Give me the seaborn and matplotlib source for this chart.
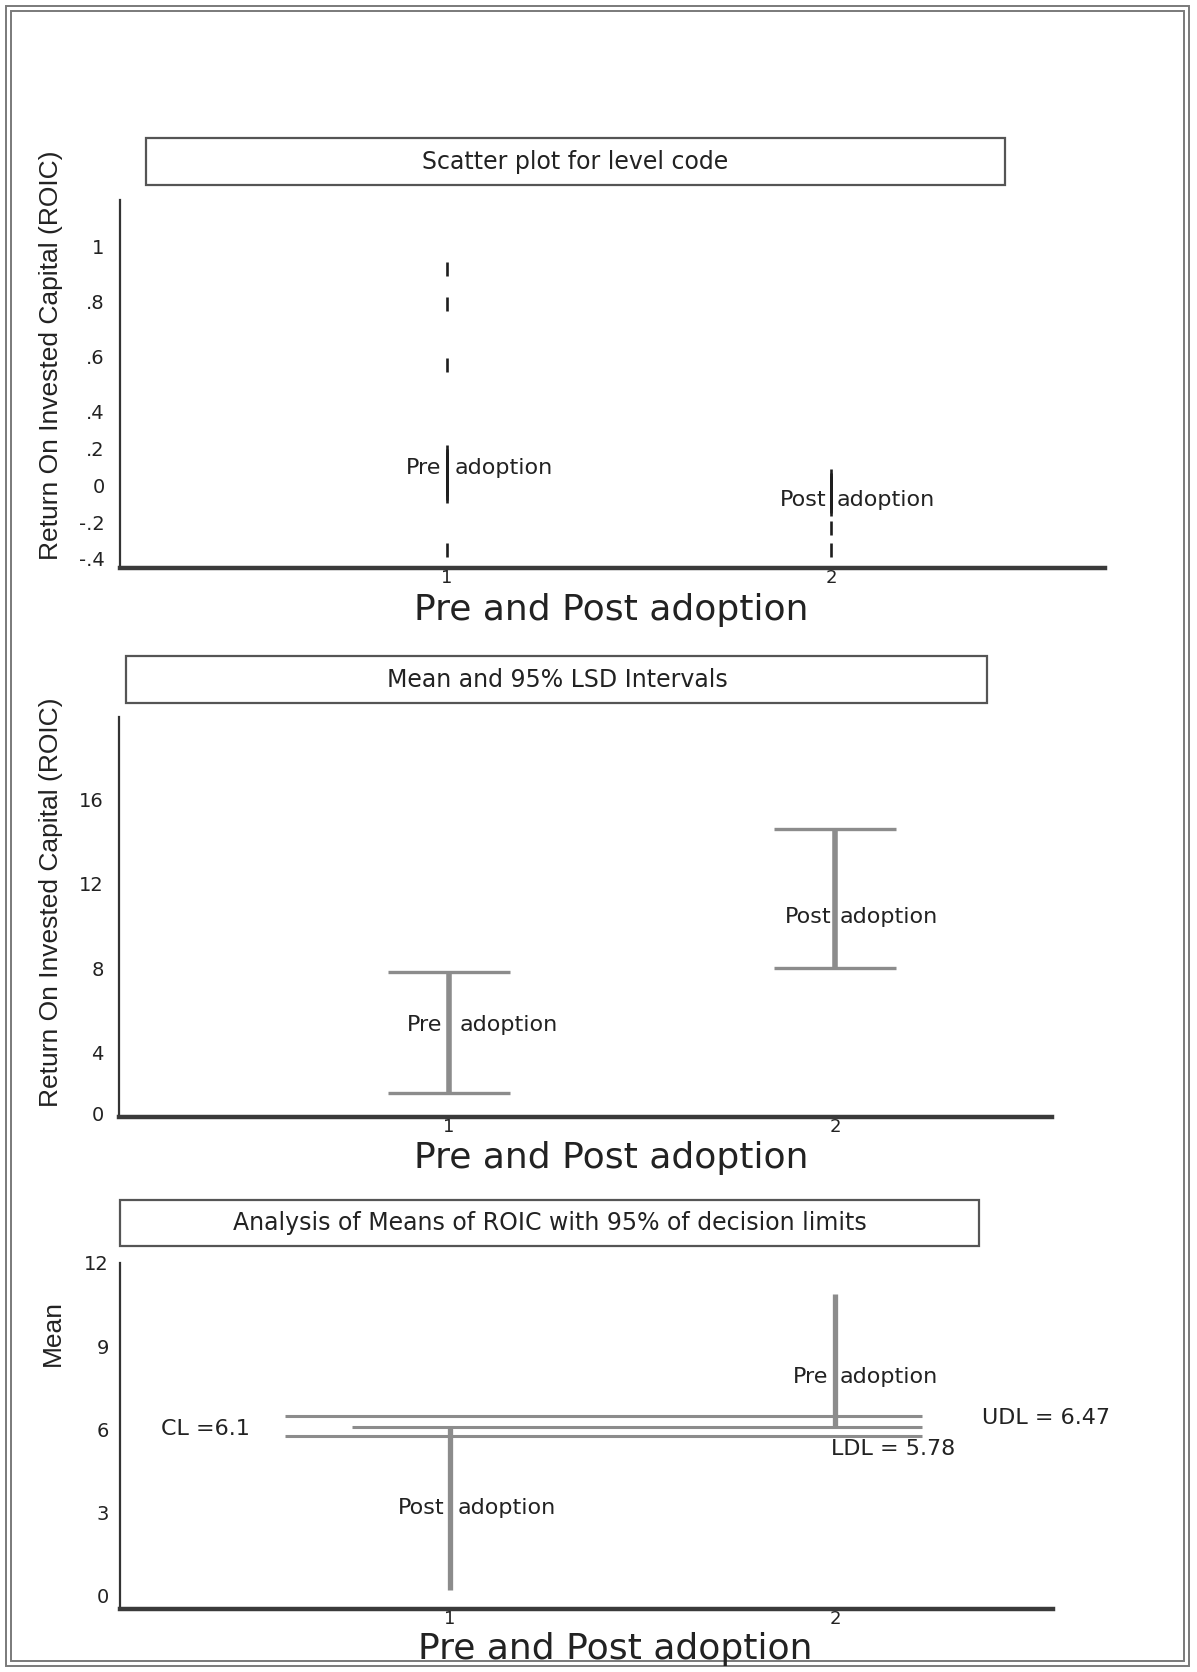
import numpy as np
import pandas as pd
import matplotlib
matplotlib.use("Agg")
import matplotlib.pyplot as plt
import seaborn as sns
from matplotlib.patches import Rectangle
from matplotlib import font_manager

# ---------------- data ----------------
group_codes = [1, 2]
group_names = ["Pre adoption", "Post adoption"]

# panel 1 : individual ROIC observations (scatter, '|' markers)
pre_roic = [0.92, 0.79, 0.57, 0.18, 0.16, 0.14, 0.12, 0.10, 0.08, 0.06,
            0.04, 0.02, 0.00, -0.02, -0.04, -0.06, -0.35]
post_roic = [0.05, 0.03, 0.01, -0.01, -0.03, -0.05, -0.07, -0.09, -0.11,
             -0.13, -0.23, -0.35]

# panel 2 : 95% LSD intervals (pre, post)
lsd_lower = [1.31, 8.0]
lsd_upper = [7.81, 14.62]

# panel 3 : analysis of means
anom_codes = [1, 2]
anom_names = ["Post adoption", "Pre adoption"]
anom_means = [0.22, 10.9]
cl_value = 6.1
udl_value = 6.47
ldl_value = 5.78

p1_yticks = [-0.4, -0.2, 0, 0.2, 0.4, 0.6, 0.8, 1]
p1_yticklabels = ["-.4", "-.2", "0", ".2", ".4", ".6", ".8", "1"]
p2_yticks = [0, 4, 8, 12, 16]
p3_yticks = [0, 3, 6, 9, 12]
xtick_labels = ["1", "2"]

titles = ["Scatter plot for level code",
          "Mean and 95% LSD Intervals",
          "Analysis of Means of ROIC with 95% of decision limits"]
xlabel_text = "Pre and Post adoption"
ylabel_roic = "Return On Invested Capital (ROIC)"
ylabel_mean = "Mean"

# ---------------- style ----------------
sns.set_theme(style="white")
plt.rcParams["font.family"] = ["DejaVu Sans"]
TXT = "#222222"
GRAY = "#8c8c8c"
SPINE = "#333333"

names = {f.name for f in font_manager.fontManager.ttflist}
if "Liberation Sans Narrow" in names:
    yl_family, yl_size = ["Liberation Sans Narrow", "DejaVu Sans"], 23
else:
    yl_family, yl_size = ["Liberation Sans", "DejaVu Sans"], 19

W, H, DPI = 1197, 1672, 100
fig = plt.figure(figsize=(W / DPI, H / DPI), dpi=DPI)
fig.patch.set_facecolor("white")


def add_ax(left, top, right, bottom):
    return fig.add_axes([left / W, 1 - bottom / H, (right - left) / W, (bottom - top) / H])


def piecewise(b, r):
    def fwd(v):
        v = np.asarray(v, dtype=float)
        return np.where(v < b, v, b + (v - b) * r)

    def inv(u):
        u = np.asarray(u, dtype=float)
        return np.where(u < b, u, b + (u - b) / r)
    return fwd, inv


def style_axes(ax, ypad):
    sns.despine(ax=ax)
    ax.set_facecolor("none")
    ax.spines["left"].set_linewidth(1.6)
    ax.spines["left"].set_color(SPINE)
    ax.spines["bottom"].set_linewidth(3.2)
    ax.spines["bottom"].set_color("#3a3a3a")
    ax.tick_params(axis="both", length=0, labelcolor=TXT)
    ax.tick_params(axis="y", pad=ypad, labelsize=14)
    ax.tick_params(axis="x", pad=1, labelsize=13)
    ax.set_xticks(group_codes)
    ax.set_xticklabels(xtick_labels)
    ax.grid(False)


def label(ax, x, y, left_word, right_word, dl=-5, dr=7):
    ax.annotate(left_word, xy=(x, y), xytext=(dl, 0), textcoords="offset pixels",
                ha="right", va="center", fontsize=16, color=TXT)
    ax.annotate(right_word, xy=(x, y), xytext=(dr, 0), textcoords="offset pixels",
                ha="left", va="center", fontsize=16, color=TXT)


def title_box(l, t, r, b, cx, cy, text):
    fig.patches.append(Rectangle((l / W, 1 - b / H), (r - l) / W, (b - t) / H,
                                 transform=fig.transFigure, fill=False,
                                 edgecolor="#555555", linewidth=1.6))
    fig.text(cx / W, 1 - cy / H, text, ha="center", va="center", fontsize=17, color=TXT)


def xlabel(cx, cy):
    fig.text(cx / W, 1 - cy / H, xlabel_text, ha="center", va="center", fontsize=26, color=TXT)


# outer double frame
for off in (6, 11):
    fig.patches.append(Rectangle((off / W, off / H), (W - 2 * off - 2) / W, (H - 2 * off) / H,
                                 transform=fig.transFigure, fill=False,
                                 edgecolor="#7a7a7a", linewidth=1.4))

# ---------------- panel 1 ----------------
ax1 = add_ax(120, 200, 1105, 568)
df1 = pd.DataFrame({
    "code": [group_codes[0]] * len(pre_roic) + [group_codes[1]] * len(post_roic),
    "roic": pre_roic + post_roic,
})
ax1.set_yscale("function", functions=piecewise(0.4, 1.49))
sns.scatterplot(data=df1, x="code", y="roic", marker="|", s=90, color="#1e1e1e",
                linewidth=1.9, ax=ax1, legend=False)
ax1.set_xlim(0.148, 2.714)
ax1.set_ylim(-0.449, 1.17)
ax1.set_yticks(p1_yticks)
ax1.set_yticklabels(p1_yticklabels)
style_axes(ax1, 11)
ax1.set_xlabel("")
ax1.set_ylabel("")
label(ax1, 1, 0.093, "Pre", "adoption", -6, 8)
label(ax1, 2, -0.082, "Post", "adoption", -4, 6)
xlabel(611, 610)
fig.text(51 / W, 1 - 355 / H, ylabel_roic, rotation=90, ha="center", va="center",
         fontsize=yl_size, family=yl_family, color=TXT)
title_box(146, 138, 1005, 185, 575, 162, titles[0])

# ---------------- panel 2 ----------------
ax2 = add_ax(119, 717, 1052, 1117)
ax2.set_yscale("function", functions=piecewise(4, 1.377))
lo = np.array(lsd_lower)
hi = np.array(lsd_upper)
mid = (lo + hi) / 2
ax2.errorbar(group_codes, mid, yerr=[mid - lo, hi - mid], fmt="none",
             ecolor=GRAY, elinewidth=4.0, capsize=44, capthick=2.4)
ax2.set_xlim(0.145, 2.562)
ax2.set_ylim(-0.26, 19.95)
ax2.set_yticks(p2_yticks)
ax2.set_yticklabels([str(v) for v in p2_yticks])
style_axes(ax2, 11)
label(ax2, 1, 5.29, "Pre", "adoption", -7, 11)
label(ax2, 2, 10.43, "Post", "adoption", -4, 5)
xlabel(611, 1158)
fig.text(51 / W, 1 - 902 / H, ylabel_roic, rotation=90, ha="center", va="center",
         fontsize=yl_size, family=yl_family, color=TXT)
title_box(126, 656, 987, 703, 557, 680, titles[1])

# ---------------- panel 3 ----------------
ax3 = add_ax(120, 1263, 1053, 1609)
ax3.hlines([udl_value, ldl_value], 0.571, 2.226, colors=GRAY, linewidth=2.2)
ax3.hlines(cl_value, 0.745, 2.226, colors=GRAY, linewidth=2.2)
ax3.vlines(anom_codes, [cl_value] * len(anom_codes), anom_means, colors=GRAY, linewidth=3.8)
ax3.set_xlim(0.143, 2.566)
ax3.set_ylim(-0.47, 12.0)
ax3.set_yticks(p3_yticks)
ax3.set_yticklabels([str(v) for v in p3_yticks])
style_axes(ax3, 8)
label(ax3, 2, 7.89, "Pre", "adoption", -7, 5)
label(ax3, 1, 3.17, "Post", "adoption", -5, 8)
ax3.annotate(f"CL ={cl_value}", xy=(0.249, cl_value), xytext=(0, -2), textcoords="offset pixels",
             ha="left", va="center", fontsize=16, color=TXT)
ax3.annotate(f"UDL = {udl_value}", xy=(2.382, udl_value), xytext=(0, -2), textcoords="offset pixels",
             ha="left", va="center", fontsize=16, color=TXT)
ax3.annotate(f"LDL = {ldl_value}", xy=(1.99, ldl_value), xytext=(0, -13), textcoords="offset pixels",
             ha="left", va="center", fontsize=16, color=TXT)
xlabel(615, 1649)
fig.text(53 / W, 1 - 1333 / H, ylabel_mean, rotation=90, ha="center", va="center",
         fontsize=yl_size, family=yl_family, color=TXT)
title_box(120, 1200, 979, 1246, 550, 1223, titles[2])

fig.savefig("out.png", dpi=DPI, facecolor="white")
